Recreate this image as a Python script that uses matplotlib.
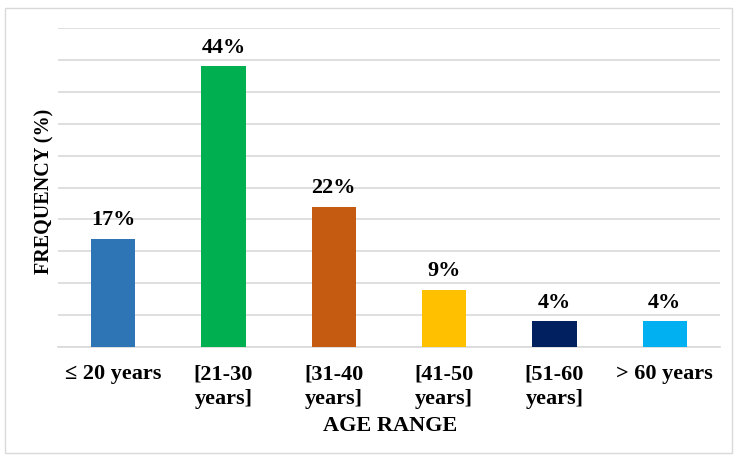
import matplotlib.pyplot as plt
from matplotlib.patches import Rectangle

categories = ["\u2264 20 years", "[21-30\nyears]", "[31-40\nyears]", "[41-50\nyears]", "[51-60\nyears]", "> 60 years"]
values = [17, 44, 22, 9, 4, 4]
colors = ["#2E75B6", "#00B050", "#C55A11", "#FFC000", "#002060", "#00B0F0"]

plt.rcParams['font.family'] = ['Liberation Serif', 'DejaVu Serif']
plt.rcParams['font.weight'] = 'bold'

fig = plt.figure(figsize=(7.34, 4.55), dpi=100)
ax = fig.add_axes([58 / 734, 1 - 347 / 455, 662 / 734, 319 / 455])

x = range(len(categories))
bars = ax.bar(x, values, width=0.4, color=colors, zorder=3)
for b, v in zip(bars, values):
    ax.text(b.get_x() + b.get_width() / 2, v + 1.3, f"{v}%", ha='center', va='bottom',
            fontsize=16, fontweight='bold')

ax.set_xlim(-0.5, len(categories) - 0.5)
ax.set_ylim(0, 50)
ax.set_yticks(range(0, 51, 5))
ax.yaxis.grid(True, color='#D9D9D9', linewidth=1.2, zorder=0)
ax.tick_params(axis='y', left=False, labelleft=False)
ax.tick_params(axis='x', bottom=False, labelsize=16, pad=9)
ax.set_xticks(list(x))
ax.set_xticklabels(categories, fontweight='bold', va='top', linespacing=1.3)
for s in ['top', 'right', 'left']:
    ax.spines[s].set_visible(False)
ax.spines['bottom'].set_color('#D9D9D9')
ax.spines['bottom'].set_linewidth(1.2)

fig.text(390 / 734, 1 - 426 / 455, "AGE RANGE", ha='center', va='center', fontsize=16, fontweight='bold')
fig.text(44 / 734, 1 - 191 / 455, "FREQUENCY (%)", ha='center', va='center', rotation=90,
         fontsize=14.5, fontweight='bold')

fig.patches.append(Rectangle((5 / 734, 2 / 455), 727 / 734, 445 / 455, transform=fig.transFigure,
                             fill=False, edgecolor='#D9D9D9', linewidth=1))

fig.savefig("out.png", dpi=100)
